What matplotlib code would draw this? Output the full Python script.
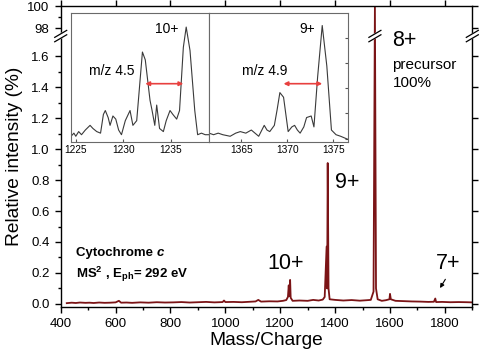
import numpy as np
import matplotlib
matplotlib.use("Agg")
import matplotlib.pyplot as plt
from matplotlib.ticker import FixedLocator, MultipleLocator, NullFormatter

plt.rcParams["font.family"] = ["Liberation Sans", "DejaVu Sans"]
plt.rcParams["mathtext.fontset"] = "custom"
plt.rcParams["mathtext.rm"] = "Liberation Sans"
plt.rcParams["mathtext.bf"] = "Liberation Sans:bold"
plt.rcParams["mathtext.it"] = "Liberation Sans:italic"

# full MS2 spectrum (m/z, relative intensity %)
mz = [422, 440, 455, 470, 490, 505, 520, 540, 560, 580, 600, 612, 620, 640, 660,
      690, 720, 750, 780, 810, 840, 870, 900, 930, 960, 990, 995, 1000, 1030,
      1060, 1090, 1110, 1120, 1130, 1160, 1190, 1210, 1222, 1228, 1231, 1233,
      1236, 1238, 1245, 1270, 1300, 1320, 1340, 1355, 1362, 1369, 1371, 1373,
      1376, 1380, 1400, 1430, 1460, 1490, 1515, 1530, 1540, 1545, 1549, 1555,
      1570, 1585, 1598, 1600, 1603, 1620, 1650, 1680, 1710, 1740, 1760, 1765,
      1768, 1790, 1820, 1850, 1880, 1900]
inten = [0.005, 0.008, 0.006, 0.009, 0.007, 0.008, 0.006, 0.009, 0.007, 0.008,
         0.010, 0.020, 0.008, 0.009, 0.007, 0.010, 0.008, 0.011, 0.009, 0.010,
         0.012, 0.009, 0.011, 0.013, 0.010, 0.012, 0.022, 0.012, 0.013, 0.011,
         0.014, 0.016, 0.026, 0.015, 0.017, 0.016, 0.020, 0.025, 0.045, 0.12,
         0.05, 0.155, 0.04, 0.020, 0.022, 0.020, 0.026, 0.022, 0.028, 0.045,
         0.37, 0.10, 0.91, 0.10, 0.030, 0.026, 0.022, 0.025, 0.021, 0.024,
         0.026, 0.08, 100.0, 0.10, 0.030, 0.020, 0.024, 0.030, 0.065, 0.030,
         0.020, 0.018, 0.016, 0.015, 0.013, 0.014, 0.035, 0.012, 0.013, 0.011,
         0.012, 0.011, 0.010]

# inset traces (magnified, plotted on inset's own scale)
mz_10 = [1224.5, 1224.8, 1225.0, 1225.3, 1225.6, 1226.0, 1226.5, 1226.8,
         1227.2, 1227.6, 1227.9, 1228.1, 1228.4, 1228.6, 1228.9, 1229.2,
         1229.5, 1229.8, 1230.2, 1230.7, 1231.0, 1231.4, 1232.0, 1232.3,
         1232.8, 1233.0, 1233.3, 1233.5, 1233.8, 1234.2, 1234.5, 1234.9,
         1235.2, 1235.6, 1235.9, 1236.3, 1236.6, 1237.0, 1237.5, 1237.8,
         1238.2, 1238.6, 1239.0]
i_10 = [1.08, 1.10, 1.08, 1.11, 1.09, 1.12, 1.15, 1.13, 1.11, 1.10, 1.22,
        1.245, 1.20, 1.15, 1.21, 1.19, 1.12, 1.09, 1.18, 1.245, 1.15, 1.18,
        1.62, 1.57, 1.31, 1.25, 1.15, 1.28, 1.13, 1.11, 1.18, 1.245, 1.22,
        1.19, 1.245, 1.65, 1.78, 1.63, 1.245, 1.09, 1.10, 1.09, 1.09]
mz_9 = [1361.5, 1362.0, 1362.5, 1363.0, 1363.8, 1364.4, 1364.9, 1365.5,
        1366.1, 1366.5, 1366.9, 1367.5, 1367.8, 1368.1, 1368.6, 1368.9,
        1369.2, 1369.6, 1370.1, 1370.5, 1370.8, 1371.1, 1371.4, 1371.8,
        1372.1, 1372.6, 1372.9, 1373.3, 1373.8, 1374.3, 1374.8, 1375.3,
        1375.8, 1376.6]
i_9 = [1.10, 1.09, 1.10, 1.09, 1.08, 1.10, 1.11, 1.10, 1.12, 1.10, 1.08,
       1.15, 1.12, 1.11, 1.15, 1.25, 1.36, 1.33, 1.11, 1.14, 1.15, 1.12,
       1.10, 1.14, 1.20, 1.21, 1.14, 1.46, 1.79, 1.53, 1.12, 1.09, 1.08, 1.06]

arrow_10 = (1232.3, 1236.3, 1.417)
arrow_9 = (1369.6, 1373.8, 1.417)

yticks_major = [0.0, 0.2, 0.4, 0.6, 0.8, 1.0, 1.2, 1.4, 1.6, 98, 100]
yticks_minor = [0.1, 0.3, 0.5, 0.7, 0.9, 1.1, 1.3, 1.5, 99]

LINE = "#7b1416"
RED = "#e8403f"

# broken y axis: lower part 0..1.73 linear, upper part 97.27..100 compressed
LO_TOP, HI_BOT, K = 1.73, 97.27, 11.0 / 155.0


def fwd(y):
    y = np.asarray(y, float)
    return np.where(y <= LO_TOP, y,
                    np.where(y >= HI_BOT, LO_TOP + (y - HI_BOT) * K, LO_TOP))


def inv(v):
    v = np.asarray(v, float)
    return np.where(v <= LO_TOP, v, HI_BOT + (v - LO_TOP) / K)


fig = plt.figure(figsize=(4.8, 3.57), dpi=100)
ax = fig.add_axes([0.1265, 0.140, 0.8575, 0.843])
ax.set_yscale("function", functions=(fwd, inv))
ax.plot(mz, inten, color=LINE, lw=1.3)
ax.set_xlim(400, 1900)
ax.set_ylim(-0.02, 100)
ax.xaxis.set_major_locator(MultipleLocator(200))
ax.xaxis.set_minor_locator(MultipleLocator(100))
ax.yaxis.set_major_locator(FixedLocator(yticks_major))
ax.yaxis.set_minor_locator(FixedLocator(yticks_minor))
ax.set_yticklabels(["0.0", "0.2", "0.4", "0.6", "0.8", "1.0", "1.2", "1.4",
                    "1.6", "98", "100"])
ax.yaxis.set_minor_formatter(NullFormatter())
ax.tick_params(axis="both", which="both", direction="out", labelsize=9.5,
               width=1.0, colors="black")
ax.tick_params(which="major", length=4.5)
ax.tick_params(which="minor", length=2.5)
ax.tick_params(axis="x", top=True)
ax.tick_params(axis="y", right=True)
for sp in ax.spines.values():
    sp.set_linewidth(1.0)
ax.set_xlabel("Mass/Charge", fontsize=13.8, labelpad=1)
ax.set_ylabel("Relative intensity (%)", fontsize=13.8, labelpad=3)


def draw_break(x_ax):
    W = fig.get_figwidth() * fig.dpi * ax.get_position().width
    H = fig.get_figheight() * fig.dpi * ax.get_position().height
    y_ax = (fwd(LO_TOP) - fwd(-0.02)) / (fwd(100) - fwd(-0.02))
    dx, dy, gap = 6.0 / W, 3.5 / H, 2.2 / H
    xs = [x_ax - dx, x_ax + dx, x_ax + dx, x_ax - dx]
    ys = [y_ax - dy - gap, y_ax + dy - gap, y_ax + dy + gap, y_ax - dy + gap]
    ax.fill(xs, ys, color="white", transform=ax.transAxes, clip_on=False,
            zorder=5)
    for s in (-gap, gap):
        ax.plot([x_ax - dx, x_ax + dx], [y_ax - dy + s, y_ax + dy + s],
                color="black", lw=0.9, transform=ax.transAxes, clip_on=False,
                zorder=6)


draw_break(0.0)
draw_break(1.0)
draw_break((1545 - 400) / 1500)

# labels on main panel
ax.text(0.806, 0.887, "8+", transform=ax.transAxes, fontsize=15.5,
        ha="left", va="center")
ax.text(0.806, 0.805, "precursor", transform=ax.transAxes, fontsize=11,
        ha="left", va="center")
ax.text(0.806, 0.743, "100%", transform=ax.transAxes, fontsize=11,
        ha="left", va="center")
ax.text(0.667, 0.415, "9+", transform=ax.transAxes, fontsize=15.5,
        ha="left", va="center")
ax.text(0.501, 0.146, "10+", transform=ax.transAxes, fontsize=15.5,
        ha="left", va="center")
ax.text(0.911, 0.146, "7+", transform=ax.transAxes, fontsize=15.5,
        ha="left", va="center")
ax.annotate("", xy=(0.918, 0.055), xytext=(0.938, 0.100),
            xycoords="axes fraction", textcoords="axes fraction",
            arrowprops=dict(arrowstyle="-|>", color="black", lw=0.8,
                            mutation_scale=6))
t = ax.text(0.036, 0.178, "Cytochrome ", transform=ax.transAxes,
            fontsize=9.5, fontweight="bold", ha="left", va="center")
ax.annotate("c", xy=(1, 0), xycoords=t, fontsize=9.5, fontweight="bold",
            style="italic", ha="left", va="bottom")
ax.text(0.036, 0.110, r"MS$^{\mathbf{2}}$ , E$_{\mathbf{ph}}$= 292 eV",
        transform=ax.transAxes, fontsize=9.5, fontweight="bold",
        ha="left", va="center")

# inset panels
in_bottom, in_h = 0.603, 0.3605
axL = fig.add_axes([0.148, in_bottom, 0.2875, in_h])
axR = fig.add_axes([0.4354, in_bottom, 0.2896, in_h])
for a, x, y, lo, hi in ((axL, mz_10, i_10, 1224.5, 1239.0),
                        (axR, mz_9, i_9, 1361.5, 1376.6)):
    a.set_facecolor("white")
    a.plot(x, y, color="#3a3a3a", lw=0.8)
    a.set_xlim(lo, hi)
    a.set_ylim(1.045, 1.87)
    a.xaxis.set_major_locator(MultipleLocator(5))
    a.tick_params(axis="x", direction="in", length=2, labelsize=7.3, pad=2,
                  color="#555555")
    a.tick_params(axis="y", left=False, labelleft=False)
    for sp in a.spines.values():
        sp.set_color("#6a6a6a")
        sp.set_linewidth(0.8)
axR.yaxis.set_major_locator(FixedLocator([1.065, 1.226, 1.387, 1.548, 1.709]))
axR.tick_params(axis="y", right=True, direction="in", length=2,
                color="#555555", labelright=False)

for a, (x0, x1, yy) in ((axL, arrow_10), (axR, arrow_9)):
    a.annotate("", xy=(x0, yy), xytext=(x1, yy),
               arrowprops=dict(arrowstyle="<|-|>", color=RED, lw=1.2,
                               mutation_scale=6, shrinkA=0, shrinkB=0))

axL.text(1234.6, 1.77, "10+", fontsize=10, ha="center", va="center")
axL.text(1228.8, 1.50, "m/z 4.5", fontsize=10, ha="center", va="center")
axR.text(1372.2, 1.77, "9+", fontsize=10, ha="center", va="center")
axR.text(1367.6, 1.50, "m/z 4.9", fontsize=10, ha="center", va="center")

fig.savefig("out.png", dpi=100)
